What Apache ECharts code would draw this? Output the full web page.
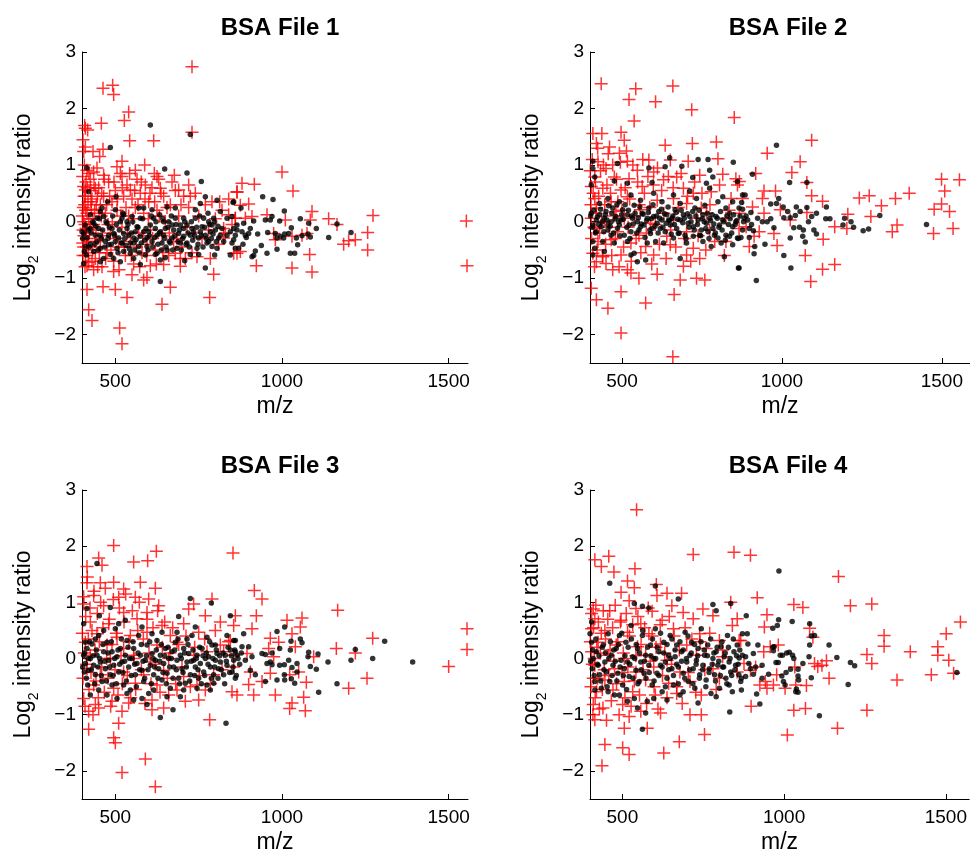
<!DOCTYPE html>
<html>
<head>
<meta charset="utf-8">
<script src="https://cdn.jsdelivr.net/npm/echarts@6/dist/echarts.min.js"></script>
<style>
  html, body { margin: 0; padding: 0; background: #fff; }
  #main { width: 970px; height: 855px; }
</style>
</head>
<body>
<div id="main"></div>
<script>
// tick labels and titles
var titles = ['BSA File 1', 'BSA File 2', 'BSA File 3', 'BSA File 4'];
var xTicks = [500, 1000, 1500];
var yTicks = [-2, -1, 0, 1, 2, 3];

// [m/z, log2 ratio]
var file1Black = [
  [942,0.44],[973,0.39],[1007,0.19],[853,0.34],[877,0.24],[970,0.09],[950,0.03],[993,0.01],[1055,0.05],[1080,-0.03],
  [1103,-0.12],[1165,-0.04],[1207,-0.19],[1140,-0.28],[1028,-0.11],[1020,-0.21],[1008,-0.22],[1043,-0.29],[1060,-0.25],[1085,-0.27],
  [1078,-0.22],[980,-0.21],[985,-0.29],[957,-0.19],[927,-0.22],[938,-0.42],[955,-0.56],[985,-0.49],[1025,-0.56],[1038,-0.56],
  [1047,-0.41],[915,-0.6],[910,-0.62],[920,-0.52],[883,-0.4],[860,-0.47],[900,-0.21],[890,-0.24],[905,-0.12],[915,0.01],
  [885,-0.03],[855,-0.12],[850,0.09],[865,-0.15],[880,-0.18],[893,-0.28],[965,0.03],[995,-0.26],[1005,-0.29],
  [605,1.71],[725,1.54],[485,1.31],[415,0.95],[648,0.93],[715,0.86],[758,0.71],[770,0.44],[420,0.53],[502,0.44],
  [477,0.35],[635,-1.06],[770,-0.82],[575,-0.76],[708,-0.69],[725,-0.58],[798,-0.59],[750,-0.58],[405,-0.74],[650,-0.64],
  [620,-0.58],[805,0.38],[855,0.35],
  [410,-0.06],[405,-0.21],[415,-0.29],[407,-0.53],[413,-0.59],[425,-0.4],[440,-0.24],[450,-0.12],[455,0.18],[465,0.09],
  [470,-0.35],[480,-0.24],[490,-0.12],[500,-0.35],[505,-0.47],[515,0],[520,0.06],[525,-0.21],[535,-0.12],[545,-0.38],
  [555,-0.29],[565,-0.09],[570,0.24],[575,0.06],[585,-0.18],[595,-0.29],[605,-0.06],[615,0.06],[625,-0.24],[633,0.12],
  [640,-0.38],[650,-0.12],[660,0],[670,-0.29],[680,0.06],[690,-0.21],[695,-0.38],[705,-0.12],[715,-0.06],[725,-0.24],
  [735,-0.18],[740,0.06],[750,-0.29],[760,-0.09],[770,-0.24],[780,-0.35],[790,-0.06],[800,-0.15],[810,-0.29],[820,-0.12],
  [835,-0.24],[845,-0.18],[855,-0.32],[865,-0.06],[850,-0.38],[835,0.06],[775,-0.38],[745,-0.47],[685,-0.47],[655,-0.5],
  [625,-0.56],[545,-0.56],[525,-0.53],[485,-0.58],[455,-0.47],[435,-0.53],[465,-0.65],[495,-0.65],[515,-0.71],[555,-0.38],
  [595,-0.44],[665,-0.38],[715,-0.38],[790,-0.44],[805,-0.47],[425,0.12],[445,0.06],[460,0.24],[500,0.21],[525,0.12],
  [585,0.24],[610,0.21],[655,0.26],[680,0.24],[755,0.32],[740,0.21],[705,0.06],[795,0.06],[815,0.18],[425,-0.12],
  [435,-0.03],[475,-0.03],[495,-0.21],[510,-0.29],[540,-0.24],[560,-0.18],[575,-0.26],[600,-0.18],[610,-0.35],[635,-0.18],
  [645,-0.24],[675,-0.15],[695,-0.06],[730,-0.12],[755,-0.18],[785,-0.18],[815,-0.24],[825,-0.35],[860,-0.24],[870,-0.47],
  [845,-0.59],[400,-0.18],[410,-0.44],[445,-0.35],[455,-0.24],[480,-0.41],[520,-0.38],[570,-0.44],[590,-0.59],[535,0],
  [550,0.09],[620,-0.12],[645,0],[670,-0.06],[705,-0.26],[765,0.06],[780,0],[555,-0.65],[455,-0.71],[635,-0.68],
  [402,-0.3],[418,-0.15],[422,-0.45],[428,-0.2],[432,0.0],[438,-0.4],[442,-0.08],[448,-0.5],[452,0.05],[458,-0.3],
  [462,-0.15],[468,-0.45],[472,0.0],[478,-0.3],[482,-0.1],[488,-0.4],[492,0.1],[498,-0.25],[503,-0.05],[508,-0.55],
  [512,-0.15],[518,-0.38],[523,0.15],[528,-0.3],[532,-0.42],[538,-0.05],[542,-0.48],[548,-0.2],[552,0.0],[558,-0.5],
  [562,-0.32],[568,-0.1],[572,-0.55],[578,-0.38],[582,0.05],[588,-0.33],[592,-0.12],[598,-0.5],[602,-0.25],[608,0.1],
  [612,-0.45],[618,-0.28],[622,0.0],[628,-0.4],[632,-0.2],[638,-0.5],[642,0.05],[648,-0.3],[652,-0.45],[658,-0.1],
  [662,-0.35],[668,0.1],[672,-0.5],[678,-0.25],[682,-0.05],[688,-0.35],[692,-0.15],[698,-0.5],[702,-0.3],[708,0.0],
  [712,-0.4],[718,-0.2],[722,-0.45],[728,0.0],[732,-0.33],[738,-0.25],[744,-0.1],[748,-0.4],[753,0.1],[758,-0.25],
  [763,-0.45],[768,-0.1],[773,-0.3],[778,0.15],[783,-0.05],[788,-0.3],[793,-0.22],[798,0.0],[803,-0.35],[808,-0.08]
];
var file1Red = [
  [730,2.74],[463,2.36],[492,2.41],[495,2.25],[540,1.94],[527,1.79],[458,1.74],[410,1.65],[417,1.62],[730,1.58],
  [543,1.43],[615,1.43],[410,1.32],[463,1.28],[433,1.24],[453,1.15],[405,1.24],[520,1.07],[588,1.0],[560,0.91],
  [505,0.97],[617,0.85],[435,0.88],[677,0.82],[625,0.8],[520,0.8],[465,0.82],[415,0.91],[720,0.65],[635,0.59],
  [690,0.56],[545,0.56],[440,0.59],[410,0.56],[865,0.53],[813,0.35],
  [415,-1.2],[463,-1.15],[500,-1.2],[535,-1.34],[665,-1.16],[640,-1.46],[795,-0.93],[783,-1.34],[420,-1.56],[430,-1.75],
  [513,-1.88],[520,-2.16],[595,-0.99],[550,-0.94],[585,-1.03],[495,-0.88],[415,-0.78],[435,-0.85],[695,-0.79],[645,-0.76],
  [605,-0.78],
  [405,0.62],[410,0.45],[408,0.3],[415,0.15],[405,0.0],[412,-0.12],[418,-0.35],[405,-0.45],[410,-0.6],[420,-0.72],
  [425,0.75],[430,0.4],[428,0.22],[435,-0.05],[432,-0.5],[440,-0.65],[445,0.95],[450,0.6],[455,0.3],[448,-0.3],
  [460,-0.8],[465,0.45],[470,0.15],[475,-0.55],[480,0.7],[485,-0.2],[490,0.35],[495,-0.7],[500,0.55],[505,0.2],
  [510,-0.45],[515,0.85],[520,-0.1],[525,0.45],[530,-0.6],[535,0.65],[540,0.1],[545,-0.35],[550,0.4],[555,-0.75],
  [560,0.25],[565,0.75],[570,-0.2],[575,0.5],[580,-0.55],[585,0.15],[590,0.65],[595,-0.4],[600,0.35],[605,-0.15],
  [610,0.6],[620,-0.5],[625,0.2],[630,0.75],[640,-0.25],[645,0.45],[650,0.0],[660,-0.6],[665,0.3],[675,-0.35],
  [680,0.55],[690,0.1],[700,-0.45],[705,0.45],[715,-0.1],[720,0.25],[730,-0.55],[740,0.5],[750,0.1],[760,-0.3],
  [770,0.3],[780,-0.15],[790,0.35],[800,0.05],[810,-0.4],[820,0.2],[830,-0.2],[840,0.4],[850,-0.05],
  [840,0.12],[860,0.06],[825,-0.12],[865,-0.56],[825,-0.29],[785,-0.65],[745,-0.62],[695,-0.65],[680,-0.56],
  [402,0.8],[404,0.25],[406,-0.25],[403,-0.6],[407,1.0],[412,0.7],[409,-0.05],[414,-0.45],[418,0.35],[422,-0.2],
  [426,0.55],[403,1.45],[408,1.7],[402,-0.38],[420,0.05],[438,0.2],[442,-0.15],[446,0.45],[452,-0.55],[458,0.1],
  [401,0.1],[403,-0.15],[406,0.45],[409,-0.8],[411,0.2],[413,-0.3],[416,0.6],[419,-0.55],[421,0.85],[424,-0.1],
  [427,0.35],[430,-0.7],[433,0.05],[436,0.65],[439,-0.35],[443,0.3],[447,-0.8],[451,0.15],[455,-0.45],[459,0.5],
  [462,-0.25],[467,0.75],[471,-0.65],[474,0.3],[478,-0.05],[483,0.45],[487,-0.5],[491,0.0],[496,0.7],[501,-0.3],
  [506,0.4],[511,-0.85],[516,0.1],[521,0.6],[527,-0.45],[532,0.25],[537,-0.2],[543,0.85],[548,-0.6],[553,0.05],
  [558,0.55],[563,-0.45],[568,0.3],[573,-0.8],[578,0.7],[583,-0.25],[589,0.4],[594,-0.6],[599,0.05],[604,0.5],
  [612,-0.3],[618,0.35],[623,-0.75],[632,0.1],[637,0.5],[643,-0.55],[655,0.25],[662,-0.2],[670,0.7],[685,-0.3],
  [697,0.3],[710,-0.65],[725,0.45],[735,-0.2],
  [1000,0.88],[880,0.68],[917,0.66],[865,0.52],[1033,0.54],[900,0.31],[875,0.29],[1090,0.18],[955,0.12],[910,0.09],
  [1010,0.03],[1085,0.03],[1140,0.05],[1165,-0.05],[1273,0.11],[860,0.06],[890,0.06],[975,-0.21],[1030,-0.26],[1075,-0.21],
  [1060,-0.24],[1185,-0.4],[1220,-0.32],[1200,-0.34],[1257,-0.19],[1257,-0.5],[875,-0.53],[855,-0.56],[1083,-0.58],[923,-0.78],
  [1030,-0.82],[1090,-0.89],[1553,0.01],[1555,-0.78],[980,-0.32]
];

var file2Black = [
  [649,1.13],[738,1.1],[769,1.1],[848,1.05],[584,0.95],[486,1.03],[409,1.07],[635,0.97],[687,0.98],[721,0.78],
  [774,0.91],[409,0.94],[415,0.79],[404,0.65],[476,0.72],[517,0.68],[594,0.69],[712,0.54],[764,0.68],[784,0.79],
  [774,0.59],[861,0.71],[815,0.44],[846,0.35],[877,0.47],
  [399,0.06],[409,-0.06],[404,0.15],[420,0.03],[430,0.12],[435,-0.09],[445,0.06],[450,0.18],[456,-0.15],[466,0],
  [471,0.24],[481,0.09],[486,-0.12],[497,0.03],[502,0.21],[507,-0.24],[517,0.12],[522,-0.06],[533,0.06],[538,0.29],
  [548,0],[553,-0.15],[563,0.15],[569,-0.06],[579,0.06],[584,0.24],[594,-0.12],[599,0.09],[610,-0.03],[615,0.18],
  [625,0.03],[635,-0.18],[640,0.12],[651,-0.06],[656,0.06],[666,0.21],[671,-0.12],[682,0.03],[692,0.12],[697,-0.24],
  [707,-0.03],[712,0.09],[723,-0.09],[728,0.24],[738,0.03],[748,-0.15],[753,0.12],[764,-0.03],[774,0.06],[784,-0.12],
  [794,0.09],[805,-0.06],[815,0.03],[825,-0.24],[836,0.15],[846,-0.09],[856,0],[866,0.24],[877,-0.15],[882,0.06],
  [409,-0.35],[415,-0.47],[409,-0.59],[445,-0.53],[440,-0.35],[476,-0.38],[466,-0.24],[517,-0.35],[538,-0.56],[548,-0.71],
  [574,-0.68],[579,-0.38],[605,-0.35],[630,-0.38],[661,-0.29],[682,-0.65],[702,-0.38],[723,-0.26],[753,-0.35],[779,-0.44],
  [789,-0.24],[810,-0.38],[820,-0.62],[836,-0.26],[846,-0.41],[861,-0.29],[866,-0.82],[430,0.32],[456,0.41],[492,0.35],
  [528,0.47],[558,0.38],[599,0.5],[625,0.35],[661,0.47],[682,0.32],[733,0.41],[759,0.29],[800,0.35],[825,0.24],
  [420,-0.18],[456,-0.06],[492,-0.06],[528,-0.18],[558,-0.09],[589,-0.21],[620,-0.12],[646,0.03],[676,-0.21],[743,-0.24],
  [769,-0.18],[800,-0.29],[528,-0.59],
  [402,0.1],[407,-0.1],[412,0.2],[417,-0.2],[423,0.08],[427,-0.05],[433,0.22],[438,0.0],[443,-0.18],[448,0.12],
  [453,0.03],[458,0.28],[463,-0.08],[468,0.15],[474,-0.2],[478,0.05],[484,0.3],[489,0.0],[494,-0.25],[499,0.12],
  [504,0.04],[510,0.3],[515,-0.1],[520,0.2],[525,-0.3],[530,0.1],[535,-0.04],[541,0.15],[546,-0.2],[551,0.07],
  [556,0.26],[561,-0.04],[566,0.13],[572,-0.28],[577,0.02],[582,0.16],[587,-0.15],[592,0.05],[597,0.3],[603,-0.08],
  [608,0.1],[613,-0.2],[618,0.06],[623,0.22],[628,-0.1],[633,0.14],[638,-0.03],[644,0.26],[649,0.02],[654,-0.22],
  [659,0.1],[664,-0.05],[669,0.16],[674,0.04],[679,-0.2],[685,0.2],[690,-0.02],[695,0.06],[700,-0.3],[705,0.14],
  [710,-0.1],[716,0.0],[721,0.18],[726,-0.15],[731,0.1],[736,-0.05],[741,0.2],[746,-0.25],[751,0.05],[757,0.0],
  [762,-0.12],[767,0.15],[772,-0.3],[777,0.02],[782,0.12],[787,-0.04],[792,-0.2],[798,0.06],[803,-0.1],[808,0.18],
  [813,-0.15],[818,0.0],[823,-0.33],[828,0.1],[833,-0.05],[838,0.05],[843,-0.2],[849,0.12],[854,-0.05],[859,0.02],
  [864,-0.3],[869,0.1],
  [983,1.35],[908,0.84],[1024,0.69],[1078,0.69],[885,0.47],[874,0.34],[965,0.31],[983,0.32],[990,0.41],[1004,0.26],
  [1045,0.26],[1078,0.25],[1108,0.15],[1139,0.26],[1018,0.18],[1057,0.18],[1006,0.07],[1026,0.07],[1042,0.11],[1083,0],
  [1093,0.09],[1137,0.05],[1150,0.05],[1196,0.06],[1216,0],[1224,-0.1],[1191,-0.06],[1271,-0.13],[1254,-0.16],[1306,0.11],
  [1452,-0.05],[1037,-0.11],[1055,-0.1],[1067,-0.15],[1100,-0.15],[1108,-0.22],[1065,-0.26],[1073,-0.36],[1026,-0.29],[1006,-0.6],
  [1028,-0.82],[920,-1.04],[864,-0.82],[947,-0.4],[915,-0.44],[913,-0.57],[872,-0.28],[898,-0.28],[905,-0.05],[893,0.03],
  [880,0],[924,0.06],[939,0],[954,0],[965,0.05],[975,-0.11],[911,-0.16],[898,-0.12],[888,0.1],[877,0.22],[903,0.16]
];
var file2Red = [
  [435,2.44],[543,2.35],[522,2.16],[605,2.12],[659,2.4],[718,1.98],[538,1.78],[851,1.84],[409,1.56],[437,1.56],
  [497,1.58],[507,1.44],[461,1.32],[420,1.38],[635,1.35],[720,1.38],[795,1.41],[399,1.24],[492,1.21],[425,1.06],
  [517,1.07],[584,1.09],[651,1.09],[707,1.07],[800,1.11],[450,0.94],[548,0.91],[599,0.88],[671,0.79],[743,0.82],
  [415,0.79],[476,0.79],[522,0.76],[630,0.74],[815,0.84],[856,0.76],[404,0.62],[440,0.59],[497,0.56],[563,0.62],
  [692,0.59],[723,0.5],[779,0.53],[861,0.65],[415,0.41],[466,0.35],[517,0.44],[610,0.38],[661,0.41],[702,0.32],
  [748,0.24],[841,0.41],[877,0.41],[420,0.24],[481,0.18],[558,0.21],[764,0.15],[404,0.06],[445,0],[507,0.06],
  [589,-0.03],[661,0.03],[733,0.06],[825,0.06],[415,-0.12],[486,-0.18],[553,-0.24],[640,-0.26],[702,-0.18],[774,-0.15],
  [866,-0.12],[425,-0.35],[466,-0.32],[528,-0.38],[574,-0.44],[651,-0.41],[723,-0.47],[825,-0.35],[409,-0.56],[440,-0.62],
  [497,-0.59],[599,-0.59],[702,-0.59],[743,-0.65],[420,-0.71],[450,-0.74],[517,-0.85],[471,-0.85],[610,-0.93],[553,-1.0],
  [528,-0.91],[692,-0.79],[733,-1.0],[682,-1.03],[759,-1.03],[404,-1.18],[420,-1.38],[497,-1.24],[456,-1.53],[574,-1.44],
  [663,-1.29],[497,-1.97],[659,-2.39],
  [401,0.9],[403,0.3],[405,-0.3],[407,1.1],[410,0.5],[412,-0.1],[414,-0.8],[417,0.7],[419,0.15],[422,-0.5],
  [424,1.3],[427,0.45],[430,-0.2],[433,0.9],[436,0.0],[439,-0.6],[442,1.0],[446,0.3],[449,-0.4],[453,0.65],
  [457,1.2],[460,-0.1],[464,0.5],[468,-0.6],[471,1.0],[475,0.1],[479,-0.3],[483,0.75],[487,0.35],[491,-0.8],
  [495,1.05],[500,0.2],[505,-0.45],[510,0.6],[514,1.25],[519,-0.1],[524,0.4],[529,-0.7],[534,1.0],[539,0.1],
  [544,-0.3],[549,0.7],[554,0.3],[559,-0.55],[565,1.1],[570,0.5],[576,-0.2],[581,0.8],[587,0.25],[593,-0.75],
  [598,0.65],[604,-0.05],[611,0.95],[617,-0.4],[624,0.55],[631,0.15],[638,-0.65],[645,0.8],[652,-0.15],[660,0.6],
  [668,-0.45],[676,0.25],[685,0.85],[695,-0.3],[705,0.45],[715,-0.7],[727,0.7],[738,-0.25],[750,0.5],[762,-0.5],
  [775,0.3],[790,-0.35],[805,0.65],[820,-0.6],[835,0.2],
  [1093,1.44],[954,1.21],[1057,1.06],[1031,0.87],[918,0.85],[1078,0.69],[867,0.71],[980,0.54],[944,0.54],[1093,0.46],
  [1127,0.36],[1242,0.42],[1273,0.46],[1355,0.41],[1398,0.5],[1499,0.75],[1555,0.74],[1509,0.54],[1499,0.31],[1476,0.22],
  [1524,0.18],[1311,0.28],[1206,0.13],[1278,0.09],[1360,-0.06],[1345,-0.18],[1535,-0.12],[1474,-0.21],[1203,-0.12],[1165,-0.09],
  [867,0.15],[908,0.26],[939,0.41],[995,0.21],[1078,0.16],[944,0.15],[888,-0.09],[929,-0.18],[975,-0.21],[913,-0.26],
  [898,-0.44],[985,-0.42],[1129,-0.31],[1073,-0.6],[1127,-0.84],[1165,-0.76],[1090,-1.06],[1026,0.03]
];

var file3Black = [
  [445,1.69],[725,1.07],[788,0.99],[485,0.91],[690,0.75],[635,-1.05],[673,-0.91],[832,-1.15],[740,0.56],[775,0.38],
  [800,0.24],[845,0.76],[405,0.62],[415,0.89],[452,0.76],
  [405,0.06],[410,-0.09],[415,0.18],[420,-0.21],[425,0],[430,0.26],[435,-0.12],[440,-0.29],[445,0.06],[450,0.41],
  [455,-0.06],[460,-0.41],[465,0.12],[470,-0.18],[475,0.29],[480,-0.03],[485,-0.29],[490,0.12],[495,-0.12],[500,0.53],
  [505,0.03],[510,-0.24],[515,0.18],[520,-0.06],[525,-0.47],[530,0.06],[535,0.32],[540,-0.15],[545,-0.56],[550,0],
  [555,0.18],[560,-0.29],[565,-0.09],[570,0.41],[575,0.06],[580,-0.21],[585,-0.41],[590,-0.03],[595,0.24],[600,-0.62],
  [605,-0.12],[610,0.09],[615,-0.29],[620,-0.03],[625,0.32],[630,-0.18],[635,0.06],[640,-0.38],[645,-0.09],[650,0.18],
  [655,-0.26],[660,0],[665,-0.53],[670,0.12],[675,-0.15],[680,0.29],[685,-0.03],[690,-0.35],[695,0.06],[700,-0.18],
  [705,0.18],[710,-0.44],[715,-0.06],[720,0.09],[725,-0.29],[730,0.41],[735,-0.03],[740,-0.15],[745,0.06],[750,-0.35],
  [755,-0.09],[760,0.18],[765,-0.24],[770,0],[775,-0.47],[780,0.03],[785,-0.15],[790,0.24],[795,-0.29],[800,-0.03],
  [805,0.09],[810,-0.18],[815,-0.06],[825,-0.29],[830,0.06],[835,-0.12],[845,0.15],[850,-0.24],[855,-0.03],[860,-0.35],
  [865,0.06],[407,-0.24],[417,-0.47],[425,-0.65],[450,-0.56],[475,-0.65],[490,-0.47],[505,-0.71],[535,-0.62],[555,-0.74],
  [580,-0.71],[595,-0.82],[615,-0.56],[655,-0.68],[695,-0.68],[705,-0.56],[745,-0.53],[785,-0.56],[795,-0.44],[410,0.29],
  [440,0.35],[465,0.5],[510,0.62],[530,0.68],[580,0.56],[610,0.44],[640,0.47],[685,0.47],[715,0.35],[835,0.41],
  [855,0.32],
  [402,-0.15],[408,0.1],[413,-0.35],[418,0.0],[423,0.3],[428,-0.2],[433,0.05],[438,-0.45],[443,0.15],[448,-0.15],
  [453,0.0],[458,-0.3],[463,0.25],[468,-0.05],[473,-0.4],[478,0.1],[483,-0.15],[488,0.3],[493,-0.3],[498,0.0],
  [503,-0.45],[508,0.15],[513,-0.1],[518,0.35],[523,-0.25],[528,-0.05],[533,-0.4],[538,0.2],[543,0.0],[548,-0.3],
  [553,0.3],[558,-0.1],[563,-0.5],[568,0.1],[573,-0.2],[578,0.25],[583,-0.05],[588,-0.35],[593,0.05],[598,-0.2],
  [603,0.3],[608,-0.45],[613,0.0],[618,-0.15],[623,0.15],[628,-0.35],[633,-0.05],[638,0.25],[643,-0.25],[648,0.05],
  [653,-0.45],[658,0.2],[663,-0.15],[668,0.0],[673,-0.35],[678,0.15],[683,-0.2],[688,0.35],[693,-0.45],[698,0.0],
  [703,-0.25],[708,0.1],[713,-0.15],[718,0.25],[723,-0.4],[728,-0.05],[733,0.15],[738,-0.3],[743,0.0],[748,-0.2],
  [753,0.2],[758,-0.45],[763,0.05],[768,-0.3],[773,0.1],[778,-0.1],[783,0.3],[788,-0.35],[793,0.0],[798,-0.15],
  [803,0.15],[808,-0.35],[813,0.05],[818,-0.2],[823,0.1],[828,-0.45],[833,-0.05],[838,0.2],[843,-0.25],[848,0.05],
  [853,-0.15],[858,0.15],[863,-0.3],[868,0.0],[873,-0.1],[878,0.1],
  [1008,0.56],[985,0.48],[1055,0.35],[1060,0.28],[1027,0.31],[1308,0.31],[1220,0.16],[1207,-0.03],[1272,0],[1392,-0.06],
  [1138,-0.06],[1080,0.11],[1108,0.08],[1078,0.03],[1025,0.15],[993,0.18],[970,0.1],[950,0.07],[965,-0.06],[993,-0.12],
  [1007,-0.11],[1020,-0.03],[1030,-0.16],[1045,-0.09],[1085,-0.14],[1103,-0.19],[1045,-0.24],[1007,-0.29],[1028,-0.36],[1038,-0.44],
  [985,-0.38],[1008,-0.38],[1165,-0.45],[1110,-0.6],[950,-0.41],[955,-0.09],[970,-0.11],[940,0.09],[910,0.03],[885,0.44],
  [860,0.32],[900,0.21],[880,0.21],[890,-0.03],[920,-0.29],[905,-0.21],[860,0.12]
];
var file3Red = [
  [495,2.01],[623,1.91],[853,1.88],[450,1.79],[460,1.66],[555,1.72],[597,1.74],[415,1.64],[575,1.36],[415,1.35],
  [455,1.35],[495,1.36],[620,1.25],[525,1.24],[435,1.12],[510,1.09],[600,1.06],[560,1.09],[790,1.06],[405,0.97],
  [465,0.94],[630,0.94],[735,0.97],[720,0.88],[525,0.82],[595,0.82],[770,0.76],[815,0.65],[855,0.59],[860,0.76],
  [425,0.65],[480,0.62],[565,0.71],[640,0.59],[705,0.62],[750,0.47],[445,0.44],[505,0.38],[545,0.41],[595,0.47],
  [665,0.41],[410,0.29],[475,0.24],[525,0.18],[625,0.24],[685,0.29],[815,0.24],[845,0.32],[425,0.06],[485,0],
  [555,0.06],[605,-0.06],[660,0],[735,0.06],[775,0.12],[825,0.12],[855,0.06],[415,-0.18],[455,-0.29],[525,-0.24],
  [585,-0.29],[645,-0.21],[705,-0.32],[795,-0.29],[435,-0.47],[495,-0.53],[560,-0.44],[625,-0.47],[685,-0.56],[745,-0.47],
  [770,-0.56],[850,-0.59],[865,-0.65],[405,-0.71],[440,-0.82],[490,-0.76],[540,-0.79],[610,-0.74],[660,-0.65],[710,-0.76],
  [750,-0.74],[420,-0.94],[450,-0.88],[520,-0.94],[610,-0.91],[645,-0.88],[420,-1.26],[510,-1.15],[495,-1.41],[500,-1.5],
  [783,-1.09],[590,-1.79],[520,-2.03],[620,-2.28],
  [401,0.45],[403,-0.35],[405,1.1],[407,0.1],[409,-0.85],[411,0.75],[414,-0.1],[416,1.45],[419,0.35],[421,-0.55],
  [424,0.9],[427,-0.25],[430,0.5],[433,-1.0],[436,1.2],[439,0.15],[442,-0.4],[446,0.8],[449,-0.7],[452,0.3],
  [456,1.0],[459,-0.15],[463,0.55],[467,-0.6],[470,1.25],[474,0.0],[478,-0.35],[482,0.7],[486,-0.85],[490,0.25],
  [494,1.05],[499,-0.2],[503,0.45],[508,-0.65],[512,0.9],[517,0.05],[521,-0.45],[526,0.65],[531,1.15],[536,-0.3],
  [541,0.3],[546,-0.7],[551,0.85],[556,0.0],[561,-0.55],[567,0.5],[572,1.0],[578,-0.2],[584,0.35],[589,-0.8],
  [595,0.7],[601,0.1],[607,-0.45],[613,0.55],[620,-0.1],[627,0.85],[634,-0.6],[641,0.2],[648,0.65],[656,-0.35],
  [664,0.1],[672,0.55],[681,-0.45],[690,0.25],[700,-0.15],[712,0.4],[725,-0.5],[738,0.2],[752,-0.3],[768,0.35],
  [785,-0.45],[800,0.5],[820,-0.2],[840,0.3],
  [1167,0.86],[1272,0.36],[1163,0.18],[1220,0.1],[1255,-0.35],[1200,-0.53],[1500,-0.14],[1555,0.53],[1555,0.16],[917,1.21],
  [940,1.06],[923,0.76],[1015,0.68],[1060,0.72],[1055,0.56],[1030,0.44],[965,0.36],[990,0.29],[1040,0.21],[1095,0.03],
  [910,0.53],[900,-0.46],[940,-0.41],[965,-0.26],[1050,-0.24],[1023,-0.29],[1073,-0.42],[980,-0.65],[1065,-0.69],[1030,-0.79],
  [1023,-0.89],[1070,-0.93],[915,-0.65],[855,-0.15],[960,0.18],[975,0.03],[905,-0.24],[895,0.09]
];

var file4Black = [
  [461,1.34],[602,1.29],[673,1.06],[537,0.98],[405,0.65],[562,0.93],[582,0.9],[562,-1.26],[832,-0.95],[780,0.96],
  [790,0.85],[835,0.98],
  [400,0.44],[405,0.29],[410,0],[407,-0.18],[415,-0.41],[420,0.12],[425,-0.12],[430,-0.29],[435,-0.53],[441,0.24],
  [446,-0.06],[451,-0.24],[456,0.44],[461,-0.41],[466,0.06],[471,-0.12],[476,-0.65],[481,0.18],[486,-0.26],[491,0.41],
  [496,-0.03],[501,-0.47],[506,-0.18],[511,0.29],[516,-0.06],[521,-0.32],[527,0.59],[532,0.03],[537,-0.71],[542,-0.21],
  [547,0.18],[552,-0.41],[557,-0.06],[562,0.41],[567,-0.26],[572,0.06],[577,-0.76],[582,-0.12],[587,0.24],[592,-0.47],
  [597,0],[602,0.53],[607,-0.26],[613,0.12],[618,-0.12],[623,-0.59],[628,0.29],[633,-0.06],[638,-0.35],[643,0.06],
  [648,0.41],[653,-0.18],[658,-0.47],[663,0.03],[668,0.24],[673,-0.15],[678,-0.65],[683,0.12],[688,-0.26],[694,0.47],
  [699,-0.06],[704,-0.41],[709,0.06],[714,0.29],[719,-0.18],[724,-0.53],[729,-0.03],[734,0.18],[739,-0.29],[744,0.53],
  [749,-0.12],[754,0.06],[759,-0.38],[764,0.24],[769,-0.18],[774,-0.62],[780,0],[785,-0.29],[790,0.12],[795,-0.12],
  [800,-0.53],[805,0.21],[810,-0.15],[815,0.03],[820,-0.35],[825,0.41],[830,-0.06],[835,-0.24],[840,-0.59],[845,0.12],
  [850,-0.12],[855,0.24],[860,-0.29],[871,0.06],[871,0.44],[415,-0.56],[456,-0.59],[491,-0.65],[516,-0.76],[547,-0.88],
  [572,-0.97],[597,-0.71],[638,-0.74],[688,-0.59],[734,-0.79],[790,-0.68],[830,-0.47],
  [402,-0.05],[408,0.15],[413,-0.3],[418,0.35],[423,-0.1],[428,0.05],[433,-0.4],[438,0.2],[443,-0.2],[448,0.1],
  [453,-0.5],[458,0.0],[463,0.3],[468,-0.3],[473,0.15],[478,-0.05],[483,-0.4],[488,0.25],[493,-0.15],[498,0.45],
  [503,-0.3],[508,0.05],[513,-0.55],[518,0.2],[523,-0.1],[528,0.35],[533,-0.35],[538,0.0],[543,0.25],[548,-0.45],
  [553,0.1],[558,-0.2],[563,0.5],[568,-0.05],[573,-0.35],[578,0.2],[583,-0.25],[588,0.05],[593,0.35],[598,-0.4],
  [603,0.0],[608,0.2],[613,-0.3],[618,0.45],[623,-0.15],[628,0.1],[633,-0.5],[638,0.25],[643,-0.2],[648,0.0],
  [653,0.35],[658,-0.3],[663,0.15],[668,-0.1],[673,-0.45],[678,0.3],[683,-0.05],[688,0.15],[693,-0.35],[698,0.0],
  [703,0.4],[708,-0.2],[713,0.1],[718,-0.45],[723,0.25],[728,-0.1],[733,0.05],[738,-0.35],[743,0.3],[748,-0.2],
  [753,0.15],[758,-0.5],[763,0.05],[768,-0.25],[773,0.35],[778,-0.1],[783,0.1],[788,-0.4],[793,0.2],[798,-0.05],
  [803,-0.3],[808,0.3],[813,-0.15],[818,0.1],[823,-0.45],[828,0.2],[833,0.0],[838,-0.3],[843,0.35],[848,-0.2],
  [853,0.05],[858,-0.1],[863,0.15],[868,-0.35],
  [984,1.56],[883,0.76],[983,0.69],[979,0.59],[965,0.54],[1025,0.66],[1079,0.62],[1084,0.4],[1094,0.41],[1139,0.24],
  [1079,0.24],[969,0.21],[967,0.14],[988,0.06],[995,0.06],[1008,0.1],[1016,0.11],[1026,0.06],[1030,0],[1077,0.03],
  [1163,0.02],[1205,-0.07],[1218,-0.13],[1058,-0.09],[1043,-0.19],[1043,-0.31],[1045,-0.38],[1084,-0.34],[1020,-0.19],[1006,-0.25],
  [993,-0.31],[1003,-0.47],[998,-0.41],[1038,-0.54],[1043,-0.6],[1036,-0.59],[1109,-1.02],[1198,-0.46],[1534,-0.25],[975,-0.07],
  [982,-0.07],[952,-0.28],[932,-0.12],[912,-0.15],[905,0.09],[919,0.24],[888,0.26],[866,-0.41],[868,-0.56],[881,-0.32],
  [925,-0.81],[915,-0.63],[932,-0.35],[905,-0.28],[896,-0.18],[891,-0.09],[881,0.03],[886,0.44],[861,0.01],[965,0.2]
];
var file4Red = [
  [544,2.65],[1545,0.65],
  [415,1.76],[435,1.64],[458,1.82],[474,1.54],[539,1.6],[719,1.85],[845,1.89],[516,1.38],[537,1.26],[496,1.18],
  [605,1.32],[638,1.16],[683,1.16],[607,1.12],[521,1.03],[653,0.94],[410,0.88],[461,0.85],[542,0.89],[592,0.84],
  [688,0.82],[749,0.88],[835,1.0],[415,0.71],[496,0.68],[557,0.62],[623,0.68],[719,0.71],[780,0.76],[855,0.71],
  [405,0.53],[446,0.5],[516,0.47],[582,0.44],[658,0.53],[739,0.44],[800,0.32],[840,0.59],[866,0.32],[425,0.29],
  [481,0.24],[547,0.21],[618,0.26],[699,0.24],[759,0.18],[405,0.12],[456,0.06],[506,0],[572,0.06],[638,-0.03],
  [729,0.06],[810,0.03],[415,-0.12],[476,-0.18],[542,-0.24],[597,-0.15],[678,-0.24],[780,-0.18],[855,-0.24],[410,-0.35],
  [446,-0.38],[506,-0.41],[572,-0.38],[643,-0.44],[709,-0.41],[800,-0.35],[420,-0.59],[471,-0.56],[532,-0.59],[602,-0.65],
  [668,-0.62],[744,-0.65],[410,-0.82],[440,-0.88],[501,-0.82],[557,-0.94],[618,-0.97],[521,-1.03],[709,-1.0],[744,-1.0],
  [415,-1.09],[506,-1.24],[577,-1.24],[446,-1.53],[501,-1.59],[521,-1.71],[628,-1.68],[676,-1.48],[437,-1.91],[754,-1.35],
  [401,0.3],[403,-0.5],[405,0.8],[407,-0.1],[409,-1.0],[411,0.55],[413,0.0],[416,-0.7],[418,0.95],[421,0.2],
  [423,-0.35],[426,0.65],[429,-0.9],[432,0.1],[435,0.45],[438,-0.55],[441,0.85],[444,-0.2],[448,0.35],[451,-1.1],
  [455,0.7],[458,-0.3],[462,0.15],[466,-0.75],[470,0.55],[474,-0.05],[478,0.95],[482,-0.45],[486,0.3],[490,-1.0],
  [494,0.65],[499,-0.25],[503,0.1],[508,-0.7],[512,0.8],[517,-0.15],[522,0.4],[527,-0.85],[532,0.6],[537,-0.4],
  [542,0.05],[548,0.75],[553,-0.65],[558,0.25],[564,-0.2],[569,0.55],[575,-0.8],[580,0.9],[586,-0.05],[592,0.4],
  [598,-0.5],[604,0.2],[610,-0.9],[617,0.6],[624,-0.3],[631,0.1],[638,-0.7],[645,0.75],[652,-0.1],[660,0.4],
  [668,-0.5],[676,0.15],[685,-0.8],[694,0.55],[704,-0.25],[715,0.35],[727,-0.6],[740,0.3],[755,-0.2],[770,0.45],
  [790,-0.55],[810,0.15],
  [896,1.84],[1168,1.46],[917,1.08],[1030,0.96],[1058,0.91],[1205,0.94],[1271,0.97],[947,0.78],[939,0.56],[1079,0.54],
  [1089,0.38],[1309,0.41],[1309,0.22],[1501,0.44],[1475,0.21],[1475,0.06],[1509,-0.03],[1390,0.12],[1256,0.07],[1271,-0.09],
  [1349,-0.38],[1455,-0.29],[1524,-0.26],[1131,-0.04],[1117,-0.12],[1104,-0.14],[1094,-0.09],[1139,-0.35],[1256,-0.92],[1165,-1.24],
  [1066,-0.89],[1030,-0.92],[1010,-1.36],[898,-0.85],[1069,-0.48],[1036,-0.47],[1003,-0.53],[977,-0.29],[1033,-0.15],[982,0.24],
  [957,0.21],[937,0.12],[912,-0.15],[896,-0.21],[925,-0.47],[942,-0.41],[967,-0.47],[947,-0.53],[876,-0.09],[861,0.32]
];

var blackSets = [file1Black, file2Black, file3Black, file4Black];
var redSets = [file1Red, file2Red, file3Red, file4Red];
var xMaxes = [1558, 1588, 1558, 1572];

var fontFam = 'Liberation Sans, Arial, Helvetica, sans-serif';
// plus marker drawn as two thin bars
var plusPath = 'path://M0,5.75H13V7.25H0Z M5.75,0H7.25V13H5.75Z';
var gridPos = [[82, 52], [590, 52], [82, 490], [590, 490]];

function minusFmt(v) {
    return v < 0 ? '\u2212' + Math.abs(v) : String(v);
}
function plainFmt(v) {
    return String(v);
}

var grids = [], xAxes = [], yAxes = [], series = [], titleList = [];
for (var i = 0; i < 4; i++) {
    grids.push({ left: gridPos[i][0], top: gridPos[i][1], width: 386, height: 311 });
    titleList.push({
        text: titles[i],
        left: gridPos[i][0] + 193,
        top: gridPos[i][1] - 41,
        textAlign: 'center',
        textStyle: { fontFamily: fontFam, fontSize: 24, fontWeight: 'bold', color: '#000' }
    });
    xAxes.push({
        gridIndex: i, type: 'value', min: 400, max: xMaxes[i],
        name: 'm/z', nameLocation: 'middle', nameGap: 32,
        nameTextStyle: { fontFamily: fontFam, fontSize: 23, color: '#000' },
        axisLine: { show: true, onZero: false, lineStyle: { color: '#000', width: 1 } },
        axisTick: { show: true, inside: true, length: 5, customValues: xTicks, lineStyle: { color: '#000' } },
        axisLabel: { customValues: xTicks, margin: 9, formatter: plainFmt, fontFamily: fontFam, fontSize: 19, color: '#000' },
        splitLine: { show: false }
    });
    yAxes.push({
        gridIndex: i, type: 'value', min: -2.5, max: 3,
        name: '{n|Log}{s|2}{n| intensity ratio}', nameLocation: 'middle', nameGap: 41, nameRotate: 90,
        nameTextStyle: {
            fontFamily: fontFam, fontSize: 23, color: '#000',
            rich: {
                n: { fontFamily: fontFam, fontSize: 23, color: '#000' },
                s: { fontFamily: fontFam, fontSize: 14, color: '#000', padding: [20, 0, 0, 0] }
            }
        },
        axisLine: { show: true, onZero: false, lineStyle: { color: '#000', width: 1 } },
        axisTick: { show: true, inside: true, length: 5, customValues: yTicks, lineStyle: { color: '#000' } },
        axisLabel: { customValues: yTicks, margin: 6, formatter: minusFmt, fontFamily: fontFam, fontSize: 19, color: '#000' },
        splitLine: { show: false }
    });
    series.push({
        type: 'scatter', xAxisIndex: i, yAxisIndex: i, data: redSets[i],
        symbol: plusPath, symbolSize: 13, itemStyle: { color: '#ff0000' }, silent: true
    });
    series.push({
        type: 'scatter', xAxisIndex: i, yAxisIndex: i, data: blackSets[i],
        symbol: 'circle', symbolSize: 5.5, itemStyle: { color: '#000' }, silent: true
    });
}

var myChart = echarts.init(document.getElementById('main'));
var option = {
    backgroundColor: '#fff',
    animation: false,
    title: titleList,
    grid: grids,
    xAxis: xAxes,
    yAxis: yAxes,
    series: series
};
myChart.setOption(option);
</script>
</body>
</html>
